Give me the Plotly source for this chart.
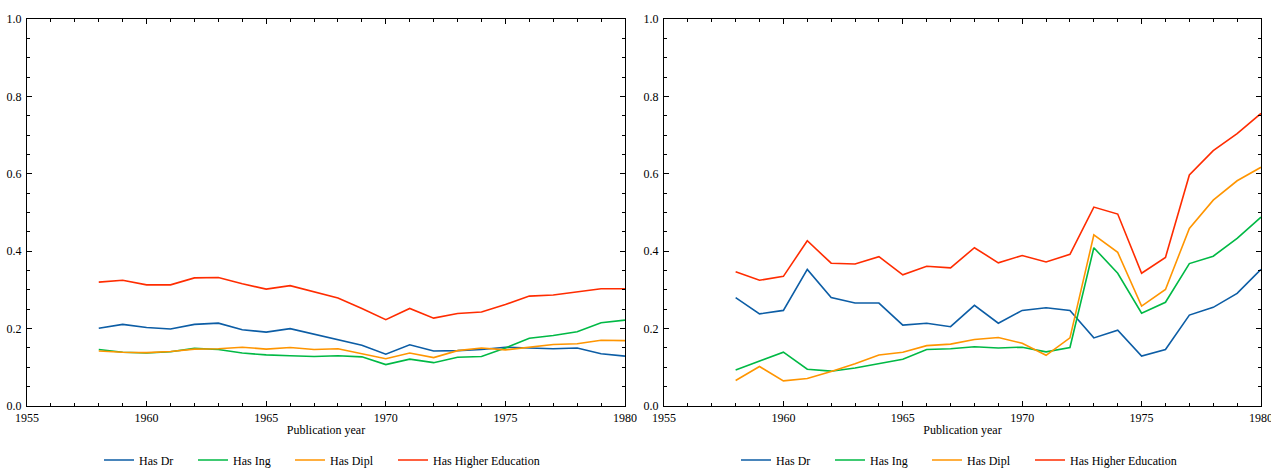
import plotly.graph_objects as go

years = list(range(1958, 1981))

# Left panel
left_dr = [0.201, 0.211, 0.203, 0.199, 0.211, 0.214, 0.197, 0.191, 0.200, 0.186, 0.172, 0.157, 0.134, 0.158, 0.142, 0.143, 0.146, 0.152, 0.150, 0.148, 0.150, 0.135, 0.129]
left_ing = [0.146, 0.139, 0.137, 0.140, 0.149, 0.146, 0.137, 0.132, 0.130, 0.128, 0.130, 0.127, 0.107, 0.121, 0.112, 0.126, 0.128, 0.150, 0.175, 0.182, 0.192, 0.215, 0.222]
left_dipl = [0.142, 0.139, 0.138, 0.141, 0.147, 0.148, 0.152, 0.147, 0.151, 0.146, 0.148, 0.135, 0.122, 0.137, 0.125, 0.143, 0.150, 0.145, 0.152, 0.159, 0.161, 0.170, 0.169]
left_higher = [0.320, 0.325, 0.313, 0.313, 0.331, 0.332, 0.316, 0.302, 0.311, 0.294, 0.279, 0.252, 0.223, 0.252, 0.227, 0.239, 0.243, 0.262, 0.284, 0.287, 0.295, 0.303, 0.303]

# Right panel
right_dr = [0.280, 0.238, 0.247, 0.353, 0.280, 0.266, 0.266, 0.209, 0.214, 0.205, 0.260, 0.214, 0.247, 0.254, 0.247, 0.176, 0.196, 0.129, 0.146, 0.235, 0.255, 0.291, 0.353]
right_ing = [0.093, 0.115, 0.139, 0.095, 0.090, 0.098, 0.109, 0.121, 0.146, 0.148, 0.153, 0.150, 0.152, 0.140, 0.151, 0.409, 0.343, 0.240, 0.268, 0.368, 0.387, 0.433, 0.488]
right_dipl = [0.066, 0.102, 0.065, 0.071, 0.089, 0.109, 0.132, 0.139, 0.156, 0.160, 0.172, 0.177, 0.162, 0.131, 0.176, 0.442, 0.397, 0.258, 0.301, 0.459, 0.532, 0.582, 0.617]
right_higher = [0.347, 0.325, 0.335, 0.427, 0.369, 0.367, 0.386, 0.339, 0.361, 0.357, 0.409, 0.370, 0.389, 0.372, 0.392, 0.514, 0.496, 0.343, 0.384, 0.597, 0.660, 0.704, 0.756]

names = ["Has Dr", "Has Ing", "Has Dipl", "Has Higher Education"]
colors = ["#0C5DA5", "#00B945", "#FF9500", "#FF2C00"]

W, H = 1271, 468
FONT = "Liberation Serif, Times New Roman, serif"
FS = 12

# legend entry sample start (px) within the left panel; right panel is offset by the panel shift
entry_px = [105, 199, 296, 399]
panel_shift = 664 - 27

fig = go.Figure()
legend_layout = {}
k = 0
for panel, (sets, xa, ya) in enumerate([([left_dr, left_ing, left_dipl, left_higher], "x", "y"),
                                          ([right_dr, right_ing, right_dipl, right_higher], "x2", "y2")]):
    for i, (series, nm, c) in enumerate(zip(sets, names, colors)):
        k += 1
        lg = "legend" if k == 1 else f"legend{k}"
        fig.add_trace(go.Scatter(x=years, y=series, mode="lines", name=nm,
                                 line=dict(color=c, width=1.6), xaxis=xa, yaxis=ya, legend=lg))
        px = entry_px[i] + panel * panel_shift - 6
        legend_layout[lg] = dict(orientation="h", x=px / W, xanchor="left", xref="paper",
                                 y=1 - 460 / H, yanchor="middle", yref="paper",
                                 font=dict(size=FS, family=FONT, color="black"),
                                 bgcolor="rgba(0,0,0,0)", borderwidth=0)

ydom = [1 - 406 / H, 1 - 19 / H]
lx = [27 / W, 625 / W]
rx = [664 / W, 1261 / W]

def xaxis(domain, anchor):
    return dict(domain=domain, anchor=anchor, range=[1955, 1980], tickmode="linear", tick0=1955, dtick=5,
                ticks="inside", ticklen=5, tickwidth=1, tickcolor="black",
                minor=dict(ticks="inside", ticklen=3, tickwidth=0.8, dtick=1, tickcolor="black"),
                showline=True, linecolor="black", linewidth=1, mirror="ticks",
                showgrid=False, zeroline=False, ticklabelstandoff=1, ticklabeloverflow="allow",
                title=dict(text="Publication year", font=dict(size=FS, family=FONT, color="black"), standoff=1),
                tickfont=dict(size=FS, family=FONT, color="black"), automargin=False)

def yaxis(domain, anchor):
    return dict(domain=domain, anchor=anchor, range=[0, 1], tickmode="linear", tick0=0, dtick=0.2,
                tickformat=".1f",
                ticks="inside", ticklen=5, tickwidth=1, tickcolor="black",
                minor=dict(ticks="inside", ticklen=3, tickwidth=0.8, dtick=0.05, tickcolor="black"),
                showline=True, linecolor="black", linewidth=1, mirror="ticks",
                showgrid=False, zeroline=False, ticklabelstandoff=2, ticklabeloverflow="allow",
                tickfont=dict(size=FS, family=FONT, color="black"), automargin=False)

fig.update_layout(
    width=W, height=H,
    margin=dict(l=0, r=0, t=0, b=0, autoexpand=False),
    paper_bgcolor="white", plot_bgcolor="white",
    font=dict(family=FONT, size=FS, color="black"),
    xaxis=xaxis(lx, "y"), yaxis=yaxis(ydom, "x"),
    xaxis2=xaxis(rx, "y2"), yaxis2=yaxis(ydom, "x2"),
    showlegend=True,
    **legend_layout,
)

fig.write_html("out.html", config={"displayModeBar": False},
               post_script="document.body.style.margin='0';document.body.style.padding='0';")
